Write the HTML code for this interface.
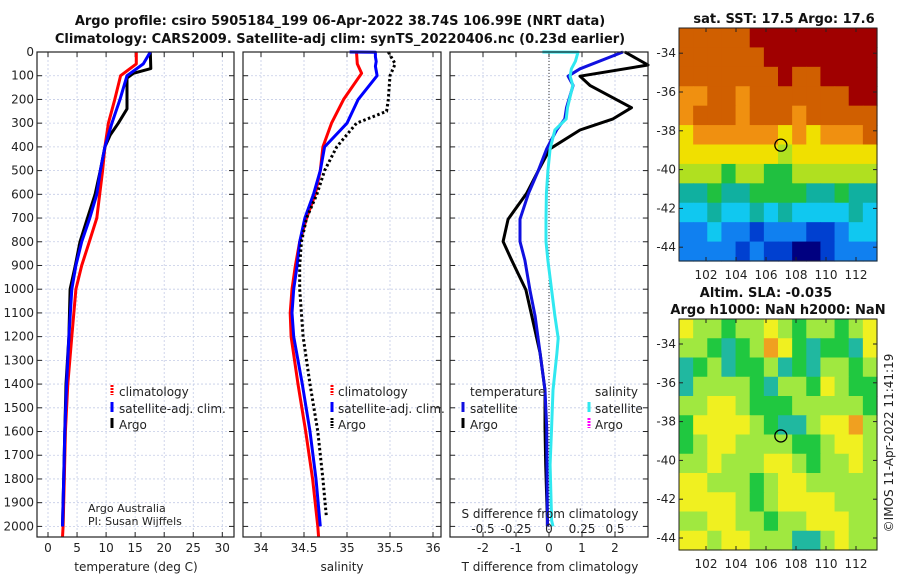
<!DOCTYPE html>
<html><head><meta charset="utf-8">
<style>
html,body{margin:0;padding:0;background:#fff;}
svg{display:block;font-family:"DejaVu Sans","Liberation Sans",sans-serif;}
.t{font-size:12px;fill:#222;}
.b{font-size:13px;font-weight:bold;fill:#111;}
</style></head>
<body>
<svg id="c" width="900" height="580" viewBox="0 0 900 580" xmlns="http://www.w3.org/2000/svg"></svg>
<script>
// ---------- data ----------
const depthTicks=[0,100,200,300,400,500,600,700,800,900,1000,1100,1200,1300,1400,1500,1600,1700,1800,1900,2000];
const tempTicks=[0,5,10,15,20,25,30];
const salTicks=[34,34.5,35,35.5,36];
const salTickLabels=["34","34.5","35","35.5","36"];
const tdiffTicks=[-2,-1,0,1,2];
const sdiffTicks=[-0.5,-0.25,0,0.25,0.5];
const sdiffTickLabels=["-0.5","-0.25","0","0.25","0.5"];

const tClimDepth=[0,50,100,200,300,400,500,700,800,900,1000,1200,1400,1600,1800,2000,2045];
const tClim=[15.2,15.2,12.5,11.5,10.4,9.8,9.4,8.4,7.1,5.8,4.8,4.1,3.4,3.0,2.8,2.6,2.5];
const tSatDepth=[0,50,100,200,300,400,500,600,700,800,900,1000,1200,1400,1600,1800,2000];
const tSat=[17.6,16.4,13.6,12.4,11.0,9.8,9.0,8.4,7.2,5.8,4.8,4.1,3.6,3.2,2.9,2.7,2.5];
const tArgoDepth=[0,70,90,110,240,300,350,400,500,600,700,800,900,1000,1200,1400,1600,1800,2000];
const tArgo=[17.6,17.7,14.7,13.6,13.6,12.1,10.7,9.8,9.0,8.1,6.8,5.5,4.7,3.8,3.6,3.1,2.9,2.7,2.5];

const sClimDepth=[0,50,90,200,300,400,500,600,700,800,900,1000,1100,1200,1400,1600,1800,2000,2045];
const sClim=[35.11,35.12,35.17,34.96,34.82,34.72,34.69,34.63,34.53,34.45,34.40,34.36,34.34,34.35,34.43,34.52,34.60,34.66,34.67];
const sSatDepth=[0,1,20,40,60,100,200,300,400,500,600,700,800,900,1000,1100,1200,1400,1600,1800,2000];
const sSat=[35.03,35.33,35.33,35.34,35.33,35.35,35.13,35.0,34.74,34.69,34.61,34.51,34.45,34.42,34.38,34.36,34.38,34.48,34.57,34.64,34.69];
const sArgoDepth=[0,50,100,200,250,300,400,500,600,700,800,900,1000,1200,1400,1600,1800,1960];
const sArgo=[35.48,35.56,35.5,35.48,35.46,35.11,34.88,34.74,34.65,34.53,34.47,34.45,34.45,34.49,34.57,34.66,34.72,34.76];

const dArgoDepth=[0,55,102,141,235,282,329,408,502,596,705,799,878,1003,1113,1270,1426,1583,1740,1975,2000];
const dArgoT=[2.3,3.0,0.94,1.24,2.5,1.94,0.94,0.03,-0.33,-0.68,-1.24,-1.39,-1.13,-0.7,-0.52,-0.27,-0.12,-0.12,-0.1,-0.05,-0.05];
const dSatDepth=[0,71,102,141,235,282,329,408,502,596,705,799,878,1003,1113,1270,1426,1583,1740,1975,2000];
const dSatT=[2.24,0.94,0.58,0.73,0.53,0.48,0.23,-0.07,-0.33,-0.62,-0.88,-0.88,-0.73,-0.58,-0.42,-0.27,-0.12,-0.07,-0.06,-0.05,-0.05];
const dSatSDepth=[0,1,39,71,102,141,235,282,329,408,502,596,705,799,878,1003,1113,1207,1270,1426,1583,1740,1975,2000];
const dSatS=[-0.05,0.22,0.2,0.17,0.16,0.18,0.14,0.13,0.045,0.008,-0.008,-0.02,-0.023,-0.023,-0.008,0.02,0.045,0.07,0.06,0.03,0.02,0.008,0.02,0.03];

const sstGrid=[
[9,9,9,9,9,10,10,10,10,10,10,10,10,10],
[9,9,9,9,9,9,10,10,10,10,10,10,10,10],
[9,9,9,9,9,9,9,10,9,9,10,10,10,10],
[8,8,9,9,8,9,9,9,9,9,9,9,10,10],
[8,9,9,9,8,9,9,9,8,9,9,9,9,9],
[7,8,8,8,8,8,8,7,8,7,8,8,8,9],
[7,7,7,7,7,7,7,6,7,7,7,7,7,7],
[6,6,6,5,6,6,5,5,6,6,6,6,6,6],
[4,4,5,4,4,5,5,5,5,4,4,5,4,4],
[3,3,4,3,3,4,3,4,3,3,3,3,4,3],
[2,2,3,2,2,1,2,2,2,1,1,2,3,3],
[2,2,2,2,1,2,1,1,0,0,1,2,2,2]];
const slaGrid=[
[7,6,6,5,6,6,7,6,5,6,6,5,6,7],
[6,6,5,4,5,6,8,7,5,4,5,5,4,7],
[4,5,6,4,5,5,6,4,5,4,6,6,5,6],
[4,6,6,6,6,5,4,6,6,5,7,6,5,5],
[6,6,7,7,6,5,5,5,6,6,6,6,6,5],
[5,7,7,7,7,6,5,4,4,6,7,7,8,6],
[5,6,7,7,6,6,6,6,5,5,6,7,7,6],
[6,6,7,6,6,6,7,7,6,5,6,6,7,6],
[7,7,6,6,6,5,6,7,7,6,6,6,6,6],
[7,7,7,7,6,5,6,7,7,7,7,6,6,6],
[6,6,7,7,6,6,5,6,6,7,7,7,6,6],
[7,7,6,7,7,6,6,6,4,4,6,7,6,6]];
const latTicks=[-34,-36,-38,-40,-42,-44];
const lonTicks=[102,104,106,108,110,112];
const argoLon=106.99, argoLat=-38.74;

// ---------- helpers ----------
const NS="http://www.w3.org/2000/svg";
const svg=document.getElementById('c');
function mk(tag,attrs,parent){const e=document.createElementNS(NS,tag);for(const k in attrs)e.setAttribute(k,attrs[k]);(parent||svg).appendChild(e);return e;}
function txt(x,y,s,cls,anchor,parent){const e=mk('text',{x:x,y:y,'class':cls||'t','text-anchor':anchor||'middle'},parent);e.textContent=s;return e;}

const plotTop=52, plotBot=537;
const yD=d=>plotTop+d*0.2372;

function panel(name){
  const g=mk('g',{});
  
  
  return g;
}
function frame(g,x0,x1,xt,xfn,labels,withDepthLabels){
  depthTicks.forEach(d=>{const y=yD(d);mk('line',{x1:x0,x2:x1,y1:y,y2:y,stroke:'#c4cce6','stroke-width':0.8,'stroke-dasharray':'2,2'},g);});
  xt.forEach(v=>{const x=xfn(v);mk('line',{x1:x,x2:x,y1:plotTop,y2:plotBot,stroke:'#c4cce6','stroke-width':0.8,'stroke-dasharray':'2,2'},g);});
  depthTicks.forEach(d=>{const y=yD(d);mk('line',{x1:x0,x2:x0+5,y1:y,y2:y,stroke:'#222'},g);mk('line',{x1:x1-5,x2:x1,y1:y,y2:y,stroke:'#222'},g);
    if(withDepthLabels){const l=txt(x0-3,y+4,String(d),'t','end',g);
      
      }});
  xt.forEach((v,i)=>{const x=xfn(v);mk('line',{x1:x,x2:x,y1:plotBot-5,y2:plotBot,stroke:'#222'},g);mk('line',{x1:x,x2:x,y1:plotTop,y2:plotTop+5,stroke:'#222'},g);
    if(labels){const l=txt(x,552,labels[i],'t','middle',g);
      
      }});
}
function line(g,xs,ds,xfn,color,w,name,dash,x0,x1){
  const pts=xs.map((v,i)=>[Math.max(x0,Math.min(x1,xfn(v))),yD(ds[i])]);
  const p=mk('polyline',{points:pts.map(p=>p[0].toFixed(1)+','+p[1].toFixed(1)).join(' '),fill:'none',stroke:color,'stroke-width':w,'stroke-linejoin':'round'},g);
  if(dash)p.setAttribute('stroke-dasharray',dash);
  
  
}
function border(g,x0,x1){mk('rect',{x:x0,y:plotTop,width:x1-x0,height:plotBot-plotTop,fill:'none',stroke:'#222','stroke-width':1.2},g);}
function legMark(g,x,y,color,dash){const l=mk('line',{x1:x,x2:x,y1:y-11,y2:y-1,stroke:color,'stroke-width':3},g);if(dash)l.setAttribute('stroke-dasharray',dash);}

let t1=txt(340,25,'Argo profile: csiro 5905184_199 06-Apr-2022 38.74S 106.99E (NRT data)','b');


let t2=txt(340,43,'Climatology: CARS2009. Satellite-adj clim: synTS_20220406.nc (0.23d earlier)','b');



// ---- panel 1: temperature ----
const P1=[37,234]; const xT=v=>48+v*5.81;
const g1=panel('temperature-panel');
frame(g1,P1[0],P1[1],tempTicks,xT,tempTicks.map(String),true);
line(g1,tClim,tClimDepth,xT,'#ff0000',3,'temp-climatology-line',null,P1[0],P1[1]);
line(g1,tArgo,tArgoDepth,xT,'#000000',3,'temp-argo-line',null,P1[0],P1[1]);
line(g1,tSat,tSatDepth,xT,'#0000ff',3,'temp-satellite-line',null,P1[0],P1[1]);
border(g1,P1[0],P1[1]);
let xl=txt(136,571,'temperature (deg C)');


const lg1=mk('g',{},g1);


legMark(lg1,112,396,'#ff0000','2,1');txt(119,396,'climatology','t','start',lg1);
legMark(lg1,112,413,'#0000ff');txt(119,413,'satellite-adj. clim.','t','start',lg1);
legMark(lg1,112,429,'#000');txt(119,429,'Argo','t','start',lg1);
const cr=mk('g',{},g1);


txt(88,512,'Argo Australia','t','start',cr).setAttribute('style','font-size:11px');
txt(88,525,'PI: Susan Wijffels','t','start',cr).setAttribute('style','font-size:11px');

// ---- panel 2: salinity ----
const P2=[243,441]; const xS=v=>261+(v-34)*86;
const g2=panel('salinity-panel');
frame(g2,P2[0],P2[1],salTicks,xS,salTickLabels,false);
line(g2,sClim,sClimDepth,xS,'#ff0000',3,'sal-climatology-line',null,P2[0],P2[1]);
line(g2,sSat,sSatDepth,xS,'#0000ff',3,'sal-satellite-line',null,P2[0],P2[1]);
line(g2,sArgo,sArgoDepth,xS,'#000000',3,'sal-argo-line','2.5,2.5',P2[0],P2[1]);
border(g2,P2[0],P2[1]);
xl=txt(342,571,'salinity');


const lg2=mk('g',{},g2);


legMark(lg2,332,396,'#ff0000','2,1');txt(338,396,'climatology','t','start',lg2);
legMark(lg2,332,413,'#0000ff');txt(338,413,'satellite-adj. clim.','t','start',lg2);
legMark(lg2,332,429,'#000','2,1');txt(338,429,'Argo','t','start',lg2);

// ---- panel 3: differences ----
const P3=[450,648]; const xTd=v=>549+v*33; const xSd=v=>549+v*132;
const g3=panel('difference-panel');
frame(g3,P3[0],P3[1],tdiffTicks,xTd,tdiffTicks.map(String),false);
mk('line',{x1:549,x2:549,y1:plotTop,y2:plotBot,stroke:'#333','stroke-width':1,'stroke-dasharray':'1,2'},g3);
line(g3,dArgoT,dArgoDepth,xTd,'#000000',3,'tdiff-argo-line',null,P3[0],P3[1]);
line(g3,dSatT,dSatDepth,xTd,'#1010e0',3,'tdiff-satellite-line',null,P3[0],P3[1]);
line(g3,dSatS,dSatSDepth,xSd,'#30e8f0',3,'sdiff-satellite-line',null,P3[0],P3[1]);
border(g3,P3[0],P3[1]);
xl=txt(550,571,'T difference from climatology');


xl=txt(550,518,'S difference from climatology');


sdiffTicks.forEach((v,i)=>{const l=txt(xSd(v),533,sdiffTickLabels[i]);
  
  });
const lg3=mk('g',{},g3);


txt(470,396,'temperature','t','start',lg3);txt(595,396,'salinity','t','start',lg3);
legMark(lg3,463,413,'#1010e0');txt(470,413,'satellite','t','start',lg3);
legMark(lg3,463,429,'#000');txt(470,429,'Argo','t','start',lg3);
legMark(lg3,589,413,'#30e8f0');txt(595,413,'satellite','t','start',lg3);
legMark(lg3,589,429,'#ff00ff','2,1');txt(595,429,'Argo','t','start',lg3);

// ---- maps ----
const sstColors=['#000080','#0040d0','#1080f0','#10c8f0','#10b0a0','#20c040','#b0e020','#f0e000','#f09010','#d05f00','#a00000'];
const slaColors=['#00007f','#0040e0','#1070f0','#10c0f0','#20b8a0','#20c840','#a0e840','#f0f020','#f0a020'];
function drawMap(name,grid,colors,mx0,my0,mx1,my1,lat34y,titles){
  const g=mk('g',{});
  
  
  const rows=grid.length, cols=grid[0].length;
  const cw=(mx1-mx0)/cols, ch=(my1-my0)/rows;
  grid.forEach((r,i)=>r.forEach((v,j)=>{
    const c=mk('rect',{x:(mx0+j*cw).toFixed(2),y:(my0+i*ch).toFixed(2),width:(cw+0.6).toFixed(2),height:(ch+0.6).toFixed(2),fill:colors[v]},g);
    
    
  }));
  const lonX=l=>706+(l-102)*15, latY=l=>lat34y+(-34-l)*19.4;
  mk('rect',{x:mx0,y:my0,width:mx1-mx0,height:my1-my0,fill:'none',stroke:'#222','stroke-width':1},g);
  latTicks.forEach(l=>{const y=latY(l);mk('line',{x1:mx0,x2:mx0+4,y1:y,y2:y,stroke:'#222'},g);mk('line',{x1:mx1-4,x2:mx1,y1:y,y2:y,stroke:'#222'},g);
    const t=txt(mx0-3,y+4,String(l),'t','end',g);
    
    });
  lonTicks.forEach(l=>{const x=lonX(l);mk('line',{x1:x,x2:x,y1:my1-4,y2:my1,stroke:'#222'},g);mk('line',{x1:x,x2:x,y1:my0,y2:my0+4,stroke:'#222'},g);
    const t=txt(x,my1+18,String(l),'t','middle',g);
    
    });
  const c=mk('circle',{cx:lonX(argoLon),cy:latY(argoLat),r:6,fill:'none',stroke:'#000','stroke-width':1.3},g);
  
  
  titles.forEach(t=>{const e=txt(t[1],t[2],t[0],'b','middle',g);
    
    });
}
drawMap('sst-map',sstGrid,sstColors,679,28,877,261,53.2,[['sat. SST: 17.5 Argo: 17.6',784,23]]);
drawMap('sla-map',slaGrid,slaColors,679,319,877,550,344,[['Altim. SLA: -0.035',766,297],['Argo h1000: NaN h2000: NaN',778,314]]);
const cp=txt(0,0,'©IMOS 11-Apr-2022 11:41:19','t','middle');
cp.setAttribute('transform','translate(893,443) rotate(-90)');


</script>
</body></html>
